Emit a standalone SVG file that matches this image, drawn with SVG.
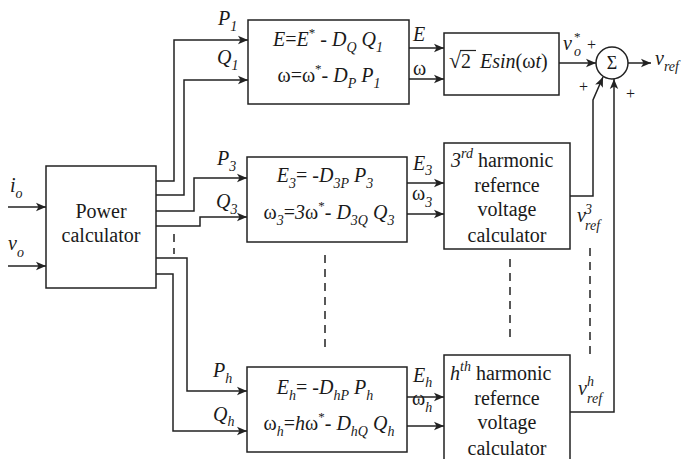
<svg xmlns="http://www.w3.org/2000/svg" width="686" height="459" viewBox="0 0 686 459">
<defs>
<marker id="ah" markerUnits="userSpaceOnUse" markerWidth="10" markerHeight="10" refX="10" refY="5" orient="auto">
<path d="M0,0.8 L10,5 L0,9.2 L2.5,5 z" fill="#222"/>
</marker>
</defs>

<g id="connectors" fill="none" stroke="#222" stroke-width="1.5">
<g marker-end="url(#ah)">
<polyline points="8,207 46,207"/>
<polyline points="8,266 46,266"/>
<polyline points="156,181 174,181 174,40 248,40"/>
<polyline points="156,195 184,195 184,80 248,80"/>
<polyline points="156,211 194,211 194,178 247,178"/>
<polyline points="156,226 200,226 200,217 247,217"/>
<polyline points="156,258 187,258 187,391 247,391"/>
<polyline points="156,274 173,274 173,431 247,431"/>
<polyline points="409,48 444,48"/>
<polyline points="409,79 444,79"/>
<polyline points="559,63 596,63"/>
<polyline points="628,63 651,63"/>
<polyline points="407,183 444,183"/>
<polyline points="407,214 444,214"/>
<polyline points="570,196 593,196 593,100 603,77"/>
<polyline points="407,397 444,397"/>
<polyline points="407,426 444,426"/>
<polyline points="570,412 614,412 614,79"/>
</g>
<g stroke-dasharray="8 6">
<line x1="174" y1="234" x2="174" y2="254"/>
<line x1="325" y1="255" x2="325" y2="353"/>
<line x1="510" y1="259" x2="510" y2="343"/>
<line x1="590" y1="248" x2="590" y2="360"/>
</g>
</g>

<g fill="#fff" stroke="#222" stroke-width="1.5">
<rect id="power-calculator-box" x="46" y="166" width="110" height="122"/>
<rect id="droop-1-box" x="248" y="20" width="161" height="84"/>
<rect id="droop-3-box" x="247" y="157" width="160" height="85"/>
<rect id="droop-h-box" x="247" y="367" width="160" height="85"/>
<rect id="sine-box" x="444" y="33" width="115" height="62"/>
<rect id="harmonic-3-box" x="444" y="143" width="126" height="106"/>
<rect id="harmonic-h-box" x="444" y="355" width="126" height="110"/>
<circle id="summer-circle" cx="612" cy="63" r="16"/>
</g>
<line x1="460" y1="50.5" x2="476" y2="50.5" stroke="#222" stroke-width="1.2"/>

<g font-family="Liberation Serif" font-size="20" fill="#1a1a1a">
<g id="inputs">
<text font-family="Liberation Serif" x="10" y="192" font-style="italic">i<tspan font-size="14" dy="6">o</tspan></text>
<text font-family="Liberation Serif" x="8" y="250" font-style="italic">v<tspan font-size="14" dy="7">o</tspan></text>
</g>
<g id="power-calculator">
<text font-family="Liberation Serif" text-anchor="middle" x="101" y="218">Power</text>
<text font-family="Liberation Serif" text-anchor="middle" x="101" y="242">calculator</text>
</g>
<g id="labels-left">
<text font-family="Liberation Serif" x="218" y="25" font-style="italic">P<tspan font-size="14" dy="6">1</tspan></text>
<text font-family="Liberation Serif" x="217" y="64" font-style="italic">Q<tspan font-size="14" dy="6">1</tspan></text>
<text font-family="Liberation Serif" x="217" y="165" font-style="italic">P<tspan font-size="14" dy="6">3</tspan></text>
<text font-family="Liberation Serif" x="216" y="208" font-style="italic">Q<tspan font-size="14" dy="6">3</tspan></text>
<text font-family="Liberation Serif" x="213" y="377" font-style="italic">P<tspan font-size="14" dy="6">h</tspan></text>
<text font-family="Liberation Serif" x="213" y="421" font-style="italic">Q<tspan font-size="14" dy="5">h</tspan></text>
</g>
<g id="droop-1">
<text font-family="Liberation Serif" text-anchor="middle" x="328" y="46"><tspan font-style="italic">E</tspan>=<tspan font-style="italic">E</tspan><tspan dy="-9" font-size="13">*</tspan><tspan dy="9"> - </tspan><tspan font-style="italic">D</tspan><tspan font-style="italic" font-size="14" dy="6">Q</tspan><tspan font-style="italic" dy="-6"> Q</tspan><tspan font-style="italic" font-size="14" dy="6">1</tspan></text>
<text font-family="Liberation Serif" text-anchor="middle" x="329" y="82">ω=ω<tspan dy="-9" font-size="13">*</tspan><tspan dy="9">- </tspan><tspan font-style="italic">D</tspan><tspan font-style="italic" font-size="14" dy="6">P</tspan><tspan font-style="italic" dy="-6"> P</tspan><tspan font-style="italic" font-size="14" dy="6">1</tspan></text>
</g>
<g id="droop-3">
<text font-family="Liberation Serif" text-anchor="middle" x="325" y="182"><tspan font-style="italic">E</tspan><tspan font-style="italic" font-size="14" dy="6">3</tspan><tspan dy="-6">= -</tspan><tspan font-style="italic">D</tspan><tspan font-style="italic" font-size="14" dy="6">3P</tspan><tspan font-style="italic" dy="-6"> P</tspan><tspan font-style="italic" font-size="14" dy="6">3</tspan></text>
<text font-family="Liberation Serif" text-anchor="middle" x="329" y="219">ω<tspan font-style="italic" font-size="14" dy="6">3</tspan><tspan dy="-6">=</tspan><tspan font-style="italic">3</tspan>ω<tspan dy="-9" font-size="13">*</tspan><tspan dy="9">- </tspan><tspan font-style="italic">D</tspan><tspan font-style="italic" font-size="14" dy="6">3Q</tspan><tspan font-style="italic" dy="-6"> Q</tspan><tspan font-style="italic" font-size="14" dy="6">3</tspan></text>
</g>
<g id="droop-h">
<text font-family="Liberation Serif" text-anchor="middle" x="325" y="394"><tspan font-style="italic">E</tspan><tspan font-style="italic" font-size="14" dy="6">h</tspan><tspan dy="-6">= -</tspan><tspan font-style="italic">D</tspan><tspan font-style="italic" font-size="14" dy="6">hP</tspan><tspan font-style="italic" dy="-6"> P</tspan><tspan font-style="italic" font-size="14" dy="6">h</tspan></text>
<text font-family="Liberation Serif" text-anchor="middle" x="329" y="430">ω<tspan font-style="italic" font-size="14" dy="6">h</tspan><tspan dy="-6">=</tspan><tspan font-style="italic">h</tspan>ω<tspan dy="-9" font-size="13">*</tspan><tspan dy="9">- </tspan><tspan font-style="italic">D</tspan><tspan font-style="italic" font-size="14" dy="6">hQ</tspan><tspan font-style="italic" dy="-6"> Q</tspan><tspan font-style="italic" font-size="14" dy="6">h</tspan></text>
</g>
<g id="labels-mid">
<text font-family="Liberation Serif" x="413" y="41" font-style="italic">E</text>
<text font-family="Liberation Serif" x="413" y="75">ω</text>
<text font-family="Liberation Serif" x="413" y="170" font-style="italic">E<tspan font-size="14" dy="5">3</tspan></text>
<text font-family="Liberation Serif" x="412" y="200">ω<tspan font-style="italic" font-size="14" dy="7">3</tspan></text>
<text font-family="Liberation Serif" x="413" y="382" font-style="italic">E<tspan font-size="14" dy="5">h</tspan></text>
<text font-family="Liberation Serif" x="412" y="405">ω<tspan font-style="italic" font-size="14" dy="7">h</tspan></text>
</g>
<g id="sine-generator">
<text font-family="Liberation Serif" x="449" y="68" font-size="22">√</text>
<text font-family="Liberation Serif" x="461" y="68">2</text>
<text font-family="Liberation Serif" x="480" y="68"><tspan font-style="italic">Esin</tspan>(ω<tspan font-style="italic">t</tspan>)</text>
</g>
<g id="harmonic-3">
<text font-family="Liberation Serif" x="451" y="167"><tspan font-style="italic">3</tspan><tspan font-style="italic" font-size="14" dy="-9">rd</tspan><tspan dy="9"> harmonic</tspan></text>
<text font-family="Liberation Serif" text-anchor="middle" x="507" y="192">refernce</text>
<text font-family="Liberation Serif" text-anchor="middle" x="507" y="216">voltage</text>
<text font-family="Liberation Serif" text-anchor="middle" x="507" y="242">calculator</text>
</g>
<g id="harmonic-h">
<text font-family="Liberation Serif" x="450" y="380"><tspan font-style="italic">h</tspan><tspan font-style="italic" font-size="14" dy="-9">th</tspan><tspan dy="9"> harmonic</tspan></text>
<text font-family="Liberation Serif" text-anchor="middle" x="507" y="405">refernce</text>
<text font-family="Liberation Serif" text-anchor="middle" x="507" y="429">voltage</text>
<text font-family="Liberation Serif" text-anchor="middle" x="507" y="455">calculator</text>
</g>
<g id="summer">
<text font-family="Liberation Serif" text-anchor="middle" x="612" y="69" font-size="18">Σ</text>
<text font-family="Liberation Serif" x="587" y="50" font-size="16">+</text>
<text font-family="Liberation Serif" x="579" y="92" font-size="16">+</text>
<text font-family="Liberation Serif" x="626" y="99" font-size="16">+</text>
</g>
<g id="signal-labels">
<text font-family="Liberation Serif" x="563" y="50" font-style="italic">v</text>
<text font-family="Liberation Serif" x="574" y="41" font-size="13">*</text>
<text font-family="Liberation Serif" x="574" y="56" font-style="italic" font-size="14">o</text>
<text font-family="Liberation Serif" x="655" y="65" font-style="italic">v<tspan font-size="14" dy="6">ref</tspan></text>
<text font-family="Liberation Serif" x="577" y="222" font-style="italic">v</text>
<text font-family="Liberation Serif" x="585" y="214" font-style="italic" font-size="14">3</text>
<text font-family="Liberation Serif" x="585" y="230" font-style="italic" font-size="14">ref</text>
<text font-family="Liberation Serif" x="578" y="395" font-style="italic">v</text>
<text font-family="Liberation Serif" x="587" y="386" font-style="italic" font-size="14">h</text>
<text font-family="Liberation Serif" x="587" y="403" font-style="italic" font-size="14">ref</text>
</g>
</g>
</svg>
